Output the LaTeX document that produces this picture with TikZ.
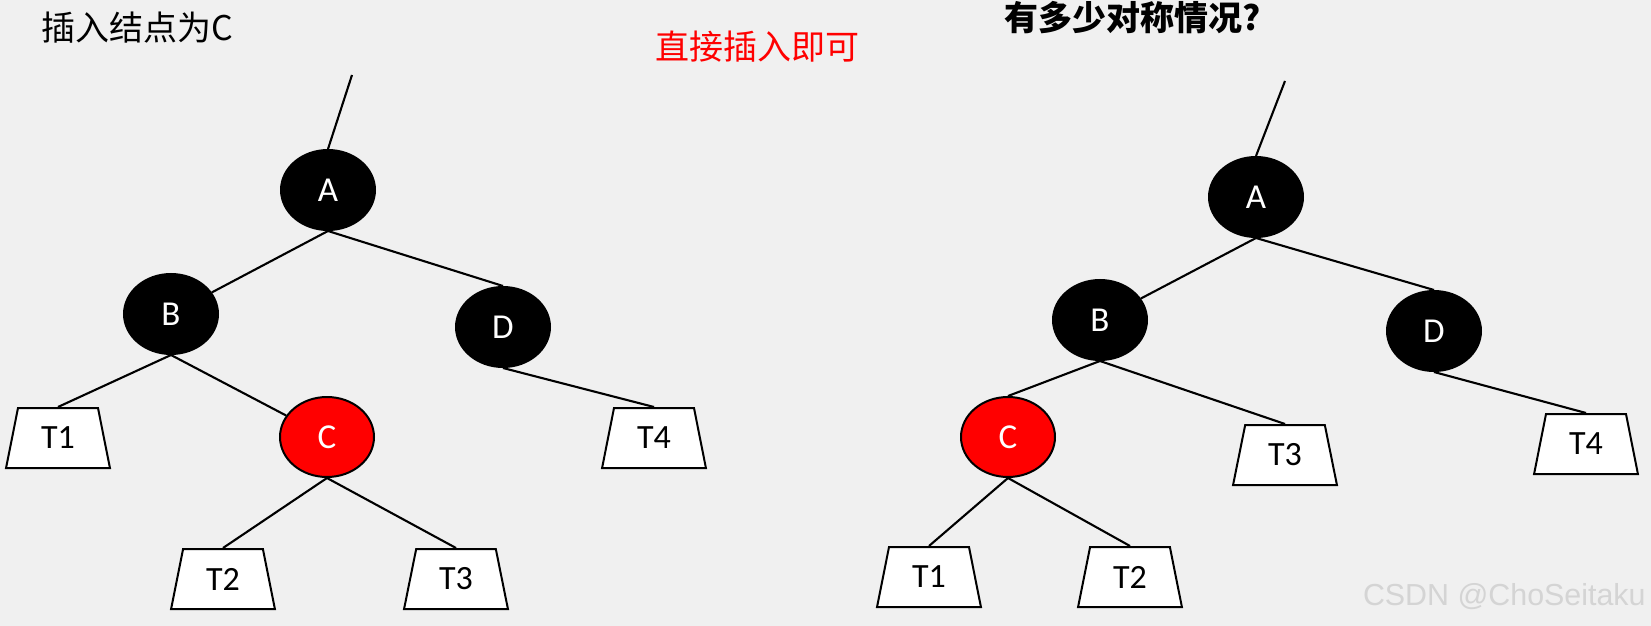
\documentclass[tikz,border=0pt]{standalone}
\usepackage{fontspec}
\setmainfont{Carlito}
\newfontfamily\cjk{Noto Sans CJK SC}
\newfontfamily\wmfont{Liberation Sans}
\usetikzlibrary{shapes.geometric}
\definecolor{bggray}{HTML}{F0F0F0}
\definecolor{rbred}{HTML}{FF0000}
\definecolor{wmgray}{HTML}{D4D4D4}

\begin{document}
\begin{tikzpicture}[
    x=0.5pt, y=-0.5pt,
    blacknode/.style={ellipse, draw=black, line width=1pt, fill=black, text=white, minimum width=47pt, minimum height=40pt, inner sep=0pt, font=\fontsize{17.5}{20}\selectfont},
    rednode/.style={blacknode, fill=rbred},
    subtree/.style={trapezium, draw=black, line width=1pt, fill=white, trapezium left angle=77, trapezium right angle=77, trapezium stretches=true, minimum width=52pt, minimum height=30pt, inner sep=0pt, font=\fontsize{17}{20}\selectfont},
    edge/.style={line width=1.05pt, black},
    title/.style={anchor=west, inner sep=0pt, font=\cjk\fontsize{17}{20}\selectfont}
]

\useasboundingbox[fill=bggray] (0,0) rectangle (1651,626);

% Titles
\node[title] (insert) at (41,28) {插入结点为C};
\node[title, text=rbred] (direct) at (655,47) {直接插入即可};
\node[title, font=\cjk\bfseries\fontsize{17}{20}\selectfont] (question) at (1004,18) {有多少对称情况?};

% Left tree
\coordinate (topL) at (352,75);
\node[blacknode] (AL) at (328,190) {A};
\node[blacknode] (BL) at (171,314) {B};
\node[blacknode] (DL) at (503,327) {D};
\node[rednode] (CL) at (327,437) {C};
\node[subtree] (T1L) at (58,438) {T1};
\node[subtree] (T4L) at (654,438) {T4};
\node[subtree] (T2L) at (223,579) {T2};
\node[subtree] (T3L) at (456,579) {T3};

\draw[edge] (topL) -- (AL.north);
\draw[edge] (AL.south) -- (BL);
\draw[edge] (AL.south) -- (DL.north);
\draw[edge] (BL.south) -- (T1L.north);
\draw[edge] (BL.south) -- (CL);
\draw[edge] (DL.south) -- (T4L.north);
\draw[edge] (CL.south) -- (T2L.north);
\draw[edge] (CL.south) -- (T3L.north);

% Right tree
\coordinate (topR) at (1285,81);
\node[blacknode] (AR) at (1256,197) {A};
\node[blacknode] (BR) at (1100,320) {B};
\node[blacknode] (DR) at (1434,331) {D};
\node[rednode] (CR) at (1008,437) {C};
\node[subtree] (T3R) at (1285,455) {T3};
\node[subtree] (T4R) at (1586,444) {T4};
\node[subtree] (T1R) at (929,577) {T1};
\node[subtree] (T2R) at (1130,577) {T2};

\draw[edge] (topR) -- (AR.north);
\draw[edge] (AR.south) -- (BR);
\draw[edge] (AR.south) -- (DR.north);
\draw[edge] (BR.south) -- (CR.north);
\draw[edge] (BR.south) -- (T3R.north);
\draw[edge] (DR.south) -- (T4R.north);
\draw[edge] (CR.south) -- (T1R.north);
\draw[edge] (CR.south) -- (T2R.north);

% Watermark
\node[anchor=east, inner sep=0pt, font=\wmfont\fontsize{15.2}{17}\selectfont, text=wmgray] (mark) at (1646,597) {CSDN @ChoSeitaku};

\end{tikzpicture}
\end{document}
